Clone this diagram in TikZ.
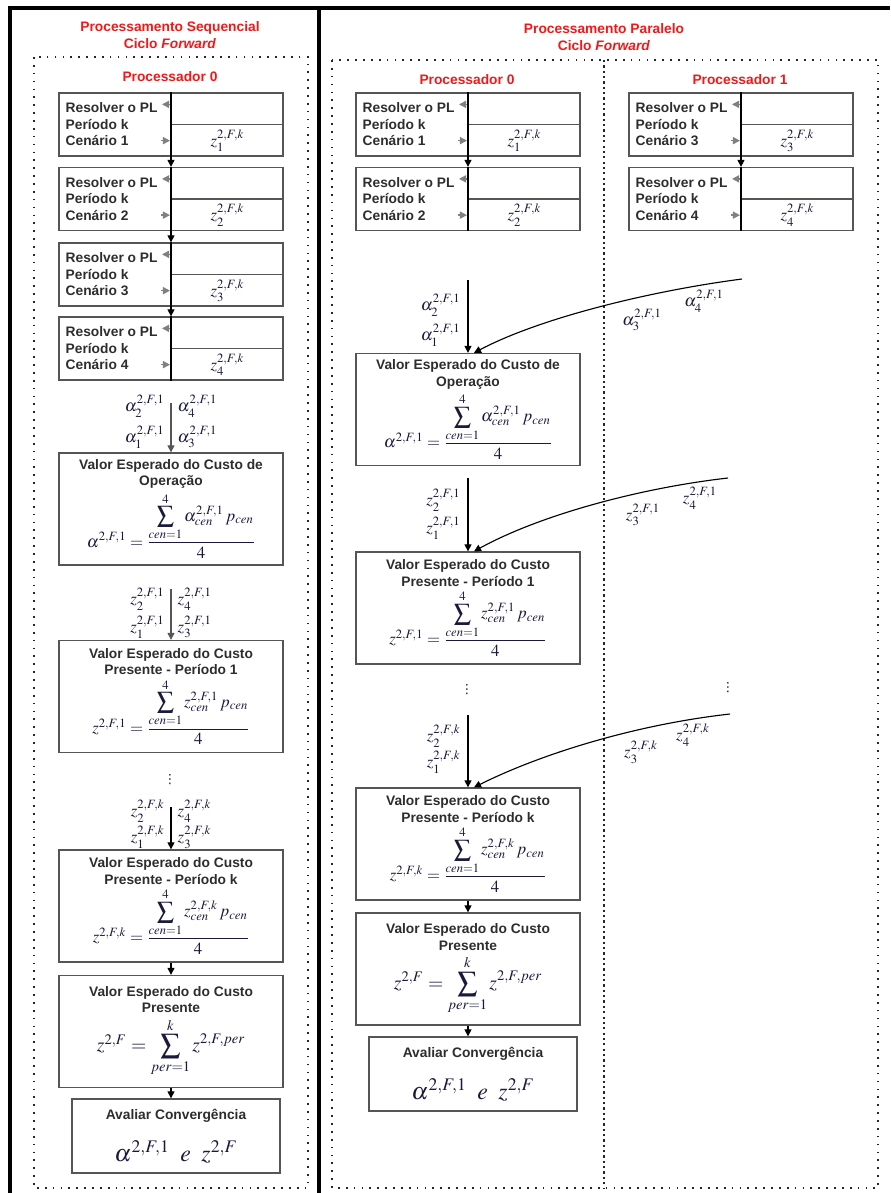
\documentclass[tikz,border=0pt]{standalone}
\usepackage{amsmath}
\usepackage{mathptmx}
\usepackage{fontspec}
\setsansfont{Liberation Sans}
\newfontfamily\symfont{DejaVu Sans}
\usepackage{xcolor}
\usepackage{tikz}
\usetikzlibrary{arrows.meta,calc}

\definecolor{boxgray}{RGB}{85,85,85}
\definecolor{txtgray}{RGB}{45,45,45}
\definecolor{mathcol}{RGB}{25,25,60}
\definecolor{titlered}{RGB}{240,25,25}

% formulas used in the boxes
\newcommand{\formOper}{\textcolor{mathcol}{\fontsize{12}{14}\selectfont$\alpha^{2,F,1}=\dfrac{\displaystyle\sum_{cen=1}^{4}\alpha_{cen}^{2,F,1}\,p_{cen}}{4}$}}
\newcommand{\formPer}[1]{\textcolor{mathcol}{\fontsize{12}{14}\selectfont$z^{2,F,#1}=\dfrac{\displaystyle\sum_{cen=1}^{4}z_{cen}^{2,F,#1}\,p_{cen}}{4}$}}
\newcommand{\formPres}{\textcolor{mathcol}{\fontsize{14}{16}\selectfont$z^{2,F}=\displaystyle\sum_{per=1}^{k}z^{2,F,per}$}}
\newcommand{\formConv}{\textcolor{mathcol}{\fontsize{17}{19}\selectfont$\alpha^{2,F,1}\;\;e\;\;z^{2,F}$}}

\begin{document}
\begin{tikzpicture}[x=0.025cm, y=-0.025cm,
    frame/.style={line width=2.2pt, black},
    dotframe/.style={line width=1.2pt, dash pattern=on 1.2pt off 4.4pt, black!85},
    midframe/.style={line width=1.4pt, dash pattern=on 1.6pt off 2.2pt, black!85},
    redtitle/.style={text=titlered, align=center, font=\fontsize{9.8}{12.5}\selectfont\sffamily\bfseries},
    solvebox/.style={draw=boxgray, line width=0.9pt, minimum width=5.6cm, minimum height=1.575cm},
    solvetext/.style={text=txtgray, align=left, inner sep=0pt, font=\fontsize{9.8}{11.7}\selectfont\sffamily\bfseries},
    valbox/.style={draw=boxgray, line width=0.9pt, minimum width=5.6cm, minimum height=2.8cm, align=center, inner sep=1pt, text=txtgray, font=\fontsize{9.8}{11.7}\selectfont\sffamily\bfseries},
    convbox/.style={valbox, minimum width=5.2cm, minimum height=1.85cm},
    boxline/.style={draw=boxgray, line width=0.9pt},
    zlab/.style={text=mathcol, inner sep=1pt, font=\fontsize{12}{14}\selectfont},
    flow/.style={line width=0.8pt, -{Triangle[length=5pt, width=5pt]}},
    flowline/.style={line width=0.8pt},
    tick/.style={line width=1pt, gray, -{Triangle[length=5pt, width=5pt]}},
    vdot/.style={text=mathcol, inner sep=0pt, font=\symfont\fontsize{9}{10}\selectfont}]

    \useasboundingbox (0,0) rectangle (890,1193);

    % Outer frame and dotted panels
    \draw[frame] (10,1193) -- (10,8) -- (890,8);
    \draw[frame] (319,8) -- (319,1193);
    \draw[dotframe] (34,57) rectangle (308,1188);
    \draw[dotframe] (332,60) rectangle (878,1188);
    \draw[midframe] (604,60) -- (604,1188);

    % Titles
    \node[redtitle] (tseq) at (170,35) {Processamento Sequencial\\Ciclo \textit{Forward}};
    \node[redtitle] (tpar) at (604,37) {Processamento Paralelo\\Ciclo \textit{Forward}};
    \node[redtitle] (procL) at (170,77) {Processador 0};
    \node[redtitle] (procA) at (467,80) {Processador 0};
    \node[redtitle] (procB) at (740,80) {Processador 1};

    % Boxes "Resolver o PL"
    \foreach \nm/\cx/\cy/\cen in {sa/171/124.5/1, sb/171/199/2, sc/171/274.5/3, sd/171/348.5/4,
                                  pa/468/124.5/1, pb/468/199/2, qa/741/124.5/3, qb/741/199/4} {
        \node[solvebox] (\nm) at (\cx,\cy) {};
        \draw[boxline] (\nm.center) -- (\nm.east);
        \node[solvetext, anchor=west] (\nm-t) at ([xshift=5pt]\nm.west) {Resolver o PL\\Período k\\Cenário \cen};
        \node[zlab] (\nm-z) at ($(\nm.center)!0.5!(\nm.south east)$) {$z_{\cen}^{2,F,k}$};
        \draw[tick] ($(\nm.north)+(0,12)$) -- ++(-9,0);
        \draw[tick] ($(\nm.south)+(-10,-16)$) -- ++(9,0);
    }
    \draw[flow] (sa.north) -- (sb.north);
    \draw[flow] (sb.north) -- (sc.north);
    \draw[flow] (sc.north) -- (sd.north);
    \draw[flowline] (sd.north) -- (sd.south);
    \draw[flow] (pa.north) -- (pb.north);
    \draw[flowline] (pb.north) -- (pb.south);
    \draw[flow] (qa.north) -- (qb.north);
    \draw[flowline] (qb.north) -- (qb.south);

    % Sequential column
    \node[valbox] (opL) at (171,509) {Valor Esperado do Custo de\\Operação\\[2pt]\formOper};
    \node[valbox] (perL1) at (171,696.5) {Valor Esperado do Custo\\Presente - Período 1\\[2pt]\formPer{1}};
    \node[valbox] (perLk) at (171,906) {Valor Esperado do Custo\\Presente - Período k\\[2pt]\formPer{k}};
    \node[valbox] (presL) at (171,1031.5) {Valor Esperado do Custo\\Presente\\[3pt]\formPres};
    \node[convbox] (convL) at (176,1136) {Avaliar Convergência\\[12pt]\formConv};

    \coordinate (opLin) at (171,403);
    \coordinate (perL1in) at (171,589);
    \coordinate (perLkin) at (171,807);
    \draw[flow, boxgray] (opLin) -- (opL.north);
    \draw[flow, boxgray] (perL1in) -- (perL1.north);
    \draw[flow] (perLkin) -- (perLk.north);
    \draw[flow] (perLk.south) -- (presL.north);
    \draw[flow] (presL.south) -- (presL.south |- convL.north);

    \node[zlab, anchor=east] (la2) at (166,406) {$\alpha_2^{2,F,1}$};
    \node[zlab, anchor=east] (la1) at (166,437) {$\alpha_1^{2,F,1}$};
    \node[zlab, anchor=west] (la4) at (176,406) {$\alpha_4^{2,F,1}$};
    \node[zlab, anchor=west] (la3) at (176,437) {$\alpha_3^{2,F,1}$};
    \node[zlab, anchor=east] (lz2) at (166,599) {$z_2^{2,F,1}$};
    \node[zlab, anchor=east] (lz1) at (166,627) {$z_1^{2,F,1}$};
    \node[zlab, anchor=west] (lz4) at (176,599) {$z_4^{2,F,1}$};
    \node[zlab, anchor=west] (lz3) at (176,627) {$z_3^{2,F,1}$};
    \node[vdot] (ldots) at (170,780) {⋮};
    \node[zlab, anchor=east] (lk2) at (166,811) {$z_2^{2,F,k}$};
    \node[zlab, anchor=east] (lk1) at (166,837) {$z_1^{2,F,k}$};
    \node[zlab, anchor=west] (lk4) at (176,811) {$z_4^{2,F,k}$};
    \node[zlab, anchor=west] (lk3) at (176,837) {$z_3^{2,F,k}$};

    % Parallel column (processor 0 collects processor 1)
    \node[valbox] (opR) at (468,409.5) {Valor Esperado do Custo de\\Operação\\[2pt]\formOper};
    \node[valbox] (perR1) at (468,608) {Valor Esperado do Custo\\Presente - Período 1\\[2pt]\formPer{1}};
    \node[valbox] (perRk) at (468,844) {Valor Esperado do Custo\\Presente - Período k\\[2pt]\formPer{k}};
    \node[valbox] (presR) at (468,969) {Valor Esperado do Custo\\Presente\\[3pt]\formPres};
    \node[convbox] (convR) at (473,1074) {Avaliar Convergência\\[12pt]\formConv};

    \coordinate (opRin) at (468,280);
    \coordinate (opRc) at (742,279);
    \coordinate (perR1in) at (468,478);
    \coordinate (perR1c) at (728,478);
    \coordinate (perRkin) at (468,715);
    \coordinate (perRkc) at (730,714);
    \draw[flow] (opRin) -- (opR.north);
    \draw[flow] (opRc) .. controls (650,291) and (540,318) .. ($(opR.north)+(6,0)$);
    \draw[flow] (perR1in) -- (perR1.north);
    \draw[flow] (perR1c) .. controls (640,488) and (540,515) .. ($(perR1.north)+(6,0)$);
    \draw[flow] (perRkin) -- (perRk.north);
    \draw[flow] (perRkc) .. controls (640,724) and (545,752) .. ($(perRk.north)+(6,0)$);
    \draw[flow] (perRk.south) -- (presR.north);
    \draw[flow] (presR.south) -- (presR.south |- convR.north);

    \node[zlab, anchor=east] (ra2) at (462,305) {$\alpha_2^{2,F,1}$};
    \node[zlab, anchor=east] (ra1) at (462,335) {$\alpha_1^{2,F,1}$};
    \node[zlab] (ra3) at (642,320) {$\alpha_3^{2,F,1}$};
    \node[zlab] (ra4) at (704,301) {$\alpha_4^{2,F,1}$};
    \node[zlab, anchor=east] (rz2) at (462,500) {$z_2^{2,F,1}$};
    \node[zlab, anchor=east] (rz1) at (462,528) {$z_1^{2,F,1}$};
    \node[zlab] (rz3) at (643,515) {$z_3^{2,F,1}$};
    \node[zlab] (rz4) at (700,498) {$z_4^{2,F,1}$};
    \node[vdot] (rdotsA) at (467,690) {⋮};
    \node[vdot] (rdotsB) at (728,688) {⋮};
    \node[zlab, anchor=east] (rk2) at (462,736) {$z_2^{2,F,k}$};
    \node[zlab, anchor=east] (rk1) at (462,762) {$z_1^{2,F,k}$};
    \node[zlab] (rk3) at (641,752) {$z_3^{2,F,k}$};
    \node[zlab] (rk4) at (693,735) {$z_4^{2,F,k}$};
\end{tikzpicture}
\end{document}
